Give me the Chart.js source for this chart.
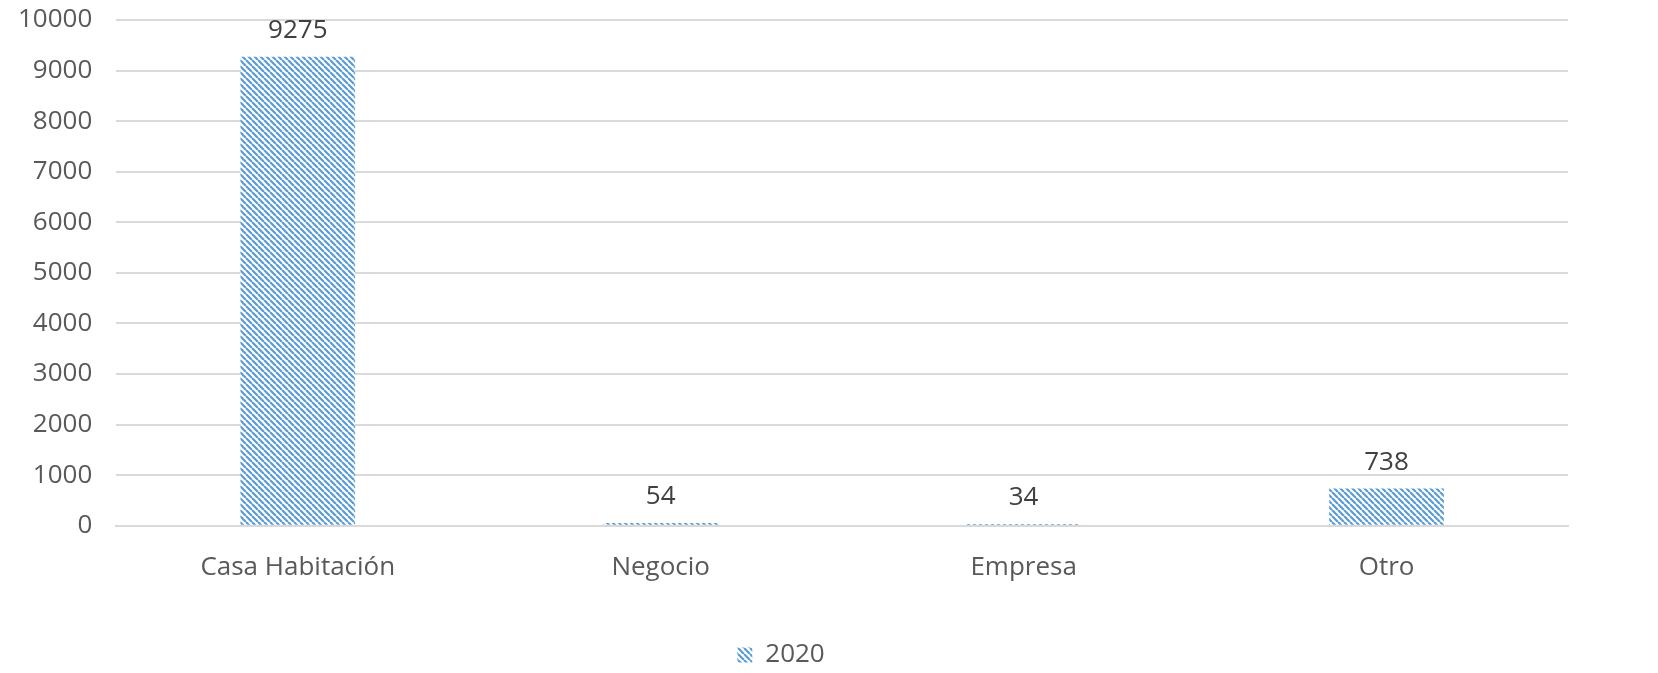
<!DOCTYPE html>
<html>
<head>
<meta charset="utf-8">
<script src="https://cdn.jsdelivr.net/npm/chart.js@4/dist/chart.umd.min.js"></script>
<style>
  html, body { margin: 0; padding: 0; background: #fff; }
  #wrap { width: 1658px; height: 673px; }
</style>
</head>
<body>
<div id="wrap"><canvas id="myChart" width="1658" height="673"></canvas></div>
<script>
// Chart data
const categories = ["Casa Habitación", "Negocio", "Empresa", "Otro"];
const values2020 = [9275, 54, 34, 738];
const seriesLabel = "2020";
const yTicks = [0, 10000, 1000]; // min, max, step

const fontFamily = '"Open Sans", "Liberation Sans", sans-serif';

// Diagonal stripe pattern like the Office "wide downward diagonal" fill
function makeStripes() {
    const size = 6;
    const c = document.createElement('canvas');
    c.width = size; c.height = size;
    const g = c.getContext('2d');
    g.fillStyle = '#ffffff';
    g.fillRect(0, 0, size, size);
    g.strokeStyle = '#5b9bd5';
    g.lineWidth = 2.2;
    g.beginPath();
    for (let k = -1; k <= 1; k++) {
        g.moveTo(k * size, 0);
        g.lineTo(k * size + size, size);
    }
    g.stroke();
    return g.createPattern(c, 'repeat');
}

// Value labels above bars
const valueLabels = {
    id: 'valueLabels',
    afterDatasetsDraw(chart) {
        const ctx = chart.ctx;
        ctx.save();
        ctx.font = '26px ' + fontFamily;
        ctx.fillStyle = '#404040';
        ctx.textAlign = 'center';
        ctx.textBaseline = 'middle';
        chart.getDatasetMeta(0).data.forEach((bar, i) => {
            ctx.fillText(values2020[i], bar.x, bar.y - 26);
        });
        ctx.restore();
    }
};

const ctx = document.getElementById('myChart').getContext('2d');
const stripes = makeStripes();

window.myChart = new Chart(ctx, {
    type: 'bar',
    data: {
        labels: categories,
        datasets: [{
            label: seriesLabel,
            data: values2020,
            backgroundColor: stripes,
            borderWidth: 0,
            categoryPercentage: 1,
            barPercentage: 0.316
        }]
    },
    options: {
        responsive: false,
        animation: false,
        devicePixelRatio: 1,
        layout: { padding: { left: -6, right: 90, top: 20, bottom: -5 } },
        plugins: {
            legend: {
                position: 'bottom',
                labels: {
                    boxWidth: 15,
                    boxHeight: 15,
                    padding: 5,
                    color: '#595959',
                    font: { size: 26, family: fontFamily }
                }
            },
            tooltip: { enabled: false }
        },
        scales: {
            x: {
                grid: { display: false },
                border: { display: true, color: '#d9d9d9', width: 2 },
                ticks: {
                    color: '#595959',
                    padding: 18,
                    font: { size: 26, family: fontFamily }
                },
                afterFit(scale) { scale.height += 36; }
            },
            y: {
                min: yTicks[0],
                max: yTicks[1],
                border: { display: false },
                grid: { color: '#d9d9d9', lineWidth: 2, drawTicks: false },
                ticks: {
                    stepSize: yTicks[2],
                    color: '#595959',
                    padding: 24,
                    font: { size: 26, family: fontFamily },
                    callback: v => String(v)
                },
                // keep the top gridline near the canvas edge (tick padding would push it down)
                afterFit(scale) { scale.paddingTop = 16; scale.paddingBottom = 16; }
            }
        }
    },
    plugins: [valueLabels]
});
</script>
</body>
</html>
